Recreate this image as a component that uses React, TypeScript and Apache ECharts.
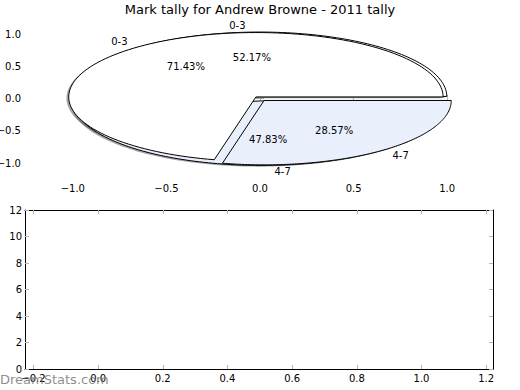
import React, { useEffect, useRef } from "react";
import * as echarts from "echarts";

const titleText = "Mark tally for Andrew Browne - 2011 tally";
const sliceLabels = ["0-3", "4-7"];
const tallyFront = [5, 2]; // 71.43% / 28.57%
const tallyBack = [12, 11]; // 52.17% / 47.83%
const sliceColors = ["#ffffff", "#e9effb"];
const pieTicks = [-1, -0.5, 0, 0.5, 1];
const lowerXTicks = [-0.2, 0, 0.2, 0.4, 0.6, 0.8, 1.0, 1.2];
const lowerYMax = 12;

const EXPLODE = 0.035;
const FONT = '"DejaVu Sans", "Liberation Sans", sans-serif';
const TICK_COLOR = "#b5b5b5";
const FS = 10;

function fmt(v: number) {
  const s = Math.abs(v).toFixed(1);
  return v < 0 ? "\u2212" + s : s;
}

function geom(values: number[], i: number) {
  const total = values.reduce((a, b) => a + b, 0);
  let before = 0;
  for (let k = 0; k < i; k++) before += values[k];
  const start = (before / total) * 360;
  const end = ((before + values[i]) / total) * 360;
  const mid = ((start + end) / 2) * Math.PI / 180;
  const cx = EXPLODE * Math.cos(mid);
  const cy = EXPLODE * Math.sin(mid);
  return { total, start, end, mid, cx, cy };
}

function wedgePoints(api: any, values: number[], i: number, dx: number, dy: number) {
  const g = geom(values, i);
  const pts: number[][] = [];
  pts.push(api.coord([g.cx + dx, g.cy + dy]));
  const n = 120;
  for (let k = 0; k <= n; k++) {
    const t = ((g.start + ((g.end - g.start) * k) / n) * Math.PI) / 180;
    pts.push(api.coord([g.cx + dx + Math.cos(t), g.cy + dy + Math.sin(t)]));
  }
  return pts;
}

function wedgeSeries(values: number[], z: number) {
  return {
    type: "custom",
    xAxisIndex: 0,
    yAxisIndex: 0,
    z,
    clip: false,
    silent: true,
    data: values.map((v, i) => [i, v]),
    renderItem: (params: any, api: any) => {
      const i = params.dataIndex;
      return {
        type: "polygon",
        shape: { points: wedgePoints(api, values, i, 0, 0) },
        style: { fill: sliceColors[i], stroke: "#000", lineWidth: 1 },
      };
    },
  };
}

function shadowSeries(values: number[]) {
  return {
    type: "custom",
    xAxisIndex: 0,
    yAxisIndex: 0,
    z: 1,
    clip: false,
    silent: true,
    data: values.map((v, i) => [i, v]),
    renderItem: (params: any, api: any) => {
      const i = params.dataIndex;
      return {
        type: "polygon",
        shape: { points: wedgePoints(api, values, i, -0.012, -0.02) },
        style: { fill: "rgba(77,77,77,0.5)", stroke: "none" },
      };
    },
  };
}

function labelSeries(values: number[]) {
  return {
    type: "custom",
    xAxisIndex: 0,
    yAxisIndex: 0,
    z: 5,
    clip: false,
    silent: true,
    data: values.map((v, i) => [i, v]),
    renderItem: (params: any, api: any) => {
      const i = params.dataIndex;
      const g = geom(values, i);
      const lx = g.cx + 1.1 * Math.cos(g.mid);
      const ly = g.cy + 1.1 * Math.sin(g.mid);
      const px = g.cx + 0.6 * Math.cos(g.mid);
      const py = g.cy + 0.6 * Math.sin(g.mid);
      const lp = api.coord([lx, ly]);
      const pp = api.coord([px, py]);
      const pct = ((values[i] / g.total) * 100).toFixed(2) + "%";
      return {
        type: "group",
        children: [
          {
            type: "text",
            x: lp[0],
            y: lp[1],
            style: {
              text: sliceLabels[i],
              fill: "#000",
              font: FS + "px " + FONT,
              align: lx > 0 ? "left" : "right",
              verticalAlign: "middle",
            },
          },
          {
            type: "text",
            x: pp[0],
            y: pp[1],
            style: {
              text: pct,
              fill: "#000",
              font: FS + "px " + FONT,
              align: "center",
              verticalAlign: "middle",
            },
          },
        ],
      };
    },
  };
}

const tickStyle = (values: number[]) => ({
  show: true,
  inside: true,
  length: 4,
  customValues: values,
  lineStyle: { color: TICK_COLOR, width: 1 },
});

export default function App() {
  const ref = useRef<HTMLDivElement>(null);
  useEffect(() => {
    if (!ref.current) return;
    const chart = echarts.init(ref.current, null, { renderer: "svg" });
    const labelBase = { color: "#000", fontSize: FS, fontFamily: FONT };
    chart.setOption({
      animation: false,
      backgroundColor: "#fff",
      title: {
        text: titleText,
        left: "center",
        top: -2,
        textStyle: { fontSize: 13, fontWeight: "normal", color: "#000", fontFamily: FONT },
      },
      graphic: [
        {
          type: "text",
          left: 0,
          top: 373,
          z: 100,
          style: {
            text: "DreamStats.com",
            fill: "rgba(120,120,120,0.85)",
            font: "13px " + FONT,
          },
        },
      ],
      grid: [
        { left: 26, top: 20, width: 468, height: 159, containLabel: false, outerBoundsMode: "none" },
        { left: 25, top: 210, width: 468, height: 159, containLabel: false, outerBoundsMode: "none" },
      ],
      xAxis: [
        {
          gridIndex: 0,
          type: "value",
          position: "bottom",
          min: -1.25,
          max: 1.25,
          axisLine: { show: false },
          splitLine: { show: false },
          axisTick: tickStyle(pieTicks),
          axisLabel: { ...labelBase, margin: 4, customValues: pieTicks, formatter: fmt },
        },
        {
          gridIndex: 0,
          type: "value",
          position: "top",
          min: -1.25,
          max: 1.25,
          axisLine: { show: false },
          splitLine: { show: false },
          axisTick: tickStyle(pieTicks),
          axisLabel: { show: false },
        },
        {
          gridIndex: 1,
          type: "value",
          position: "bottom",
          min: -0.226,
          max: 1.221,
          axisLine: { show: true, onZero: false, lineStyle: { color: "#000", width: 1 } },
          splitLine: { show: false },
          axisTick: tickStyle(lowerXTicks),
          axisLabel: { ...labelBase, margin: 4, customValues: lowerXTicks, formatter: fmt },
        },
        {
          gridIndex: 1,
          type: "value",
          position: "top",
          min: -0.226,
          max: 1.221,
          axisLine: { show: true, onZero: false, lineStyle: { color: "#000", width: 1 } },
          splitLine: { show: false },
          axisTick: tickStyle(lowerXTicks),
          axisLabel: { show: false },
        },
      ],
      yAxis: [
        {
          gridIndex: 0,
          type: "value",
          position: "left",
          min: -1.247,
          max: 1.222,
          axisLine: { show: false },
          splitLine: { show: false },
          axisTick: tickStyle(pieTicks),
          axisLabel: { ...labelBase, margin: 5, customValues: pieTicks, formatter: fmt },
        },
        {
          gridIndex: 0,
          type: "value",
          position: "right",
          min: -1.247,
          max: 1.222,
          axisLine: { show: false },
          splitLine: { show: false },
          axisTick: tickStyle(pieTicks),
          axisLabel: { show: false },
        },
        {
          gridIndex: 1,
          type: "value",
          position: "left",
          min: 0,
          max: lowerYMax,
          interval: 2,
          axisLine: { show: true, onZero: false, lineStyle: { color: "#000", width: 1 } },
          splitLine: { show: false },
          axisTick: { show: true, inside: true, length: 4, lineStyle: { color: TICK_COLOR } },
          axisLabel: { ...labelBase, margin: 3 },
        },
        {
          gridIndex: 1,
          type: "value",
          position: "right",
          min: 0,
          max: lowerYMax,
          interval: 2,
          axisLine: { show: true, onZero: false, lineStyle: { color: "#000", width: 1 } },
          splitLine: { show: false },
          axisTick: { show: true, inside: true, length: 4, lineStyle: { color: TICK_COLOR } },
          axisLabel: { show: false },
        },
      ],
      series: [
        shadowSeries(tallyBack),
        shadowSeries(tallyFront),
        wedgeSeries(tallyBack, 2),
        wedgeSeries(tallyFront, 3),
        labelSeries(tallyBack),
        labelSeries(tallyFront),
      ],
    });
    return () => chart.dispose();
  }, []);
  return (
    <div
      ref={ref}
      style={{ position: "fixed", left: 0, top: 0, width: 520, height: 390, background: "#fff" }}
    />
  );
}
